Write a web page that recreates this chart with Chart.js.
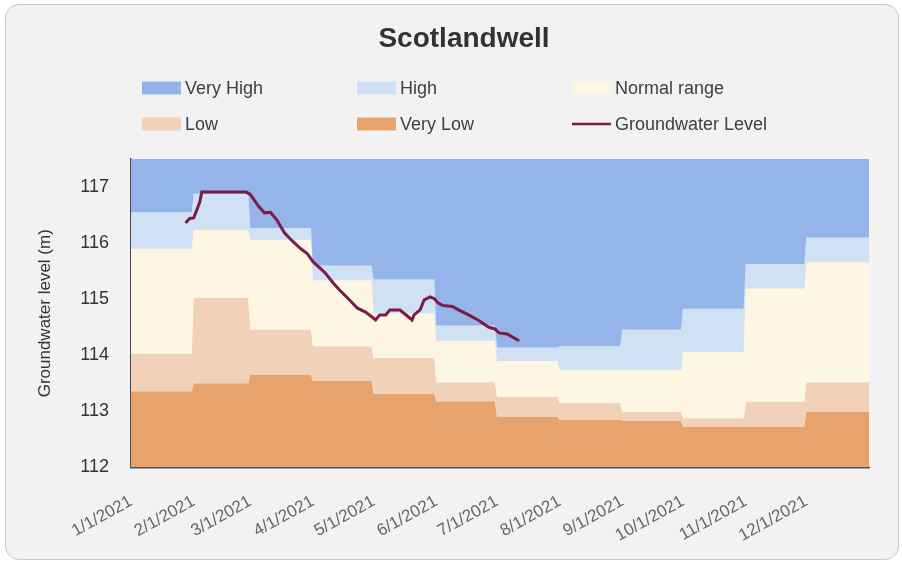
<!DOCTYPE html>
<html>
<head>
<meta charset="utf-8">
<script src="https://cdn.jsdelivr.net/npm/chart.js@4.4.1/dist/chart.umd.min.js"></script>
<style>
  body { margin: 0; background: #ffffff; }
  #frame {
    position: absolute; left: 5px; top: 4px; width: 894px; height: 556px;
    box-sizing: border-box; border: 1px solid #c8c8c8; border-radius: 14px;
    background: #f2f2f2; overflow: hidden;
  }
  canvas { display: block; }
</style>
</head>
<body>
<div id="frame"><canvas id="chart" width="892" height="554"></canvas></div>
<script>
// monthly band limits (m), Jan..Dec 2021
const highUpper    = [116.55, 116.88, 116.27, 115.60, 115.35, 114.53, 114.14, 114.16, 114.46, 114.83, 115.63, 116.10];
const normalUpper  = [115.90, 116.24, 116.06, 115.34, 114.75, 114.26, 113.90, 113.74, 113.74, 114.06, 115.19, 115.66];
const lowUpper     = [114.03, 115.02, 114.46, 114.16, 113.95, 113.52, 113.26, 113.15, 112.99, 112.88, 113.17, 113.52];
const veryLowUpper = [113.36, 113.50, 113.65, 113.54, 113.31, 113.18, 112.91, 112.85, 112.83, 112.72, 112.72, 112.99];

// groundwater readings
const levelDates = [
  "2021-01-28", "2021-01-30", "2021-02-01", "2021-02-02", "2021-02-04", "2021-02-05",
  "2021-02-27", "2021-03-01", "2021-03-05", "2021-03-08", "2021-03-11", "2021-03-14",
  "2021-03-18", "2021-03-22", "2021-03-26", "2021-03-29", "2021-04-01", "2021-04-07",
  "2021-04-11", "2021-04-14", "2021-04-19", "2021-04-23", "2021-04-27", "2021-05-01",
  "2021-05-02", "2021-05-04", "2021-05-07", "2021-05-09", "2021-05-14", "2021-05-16",
  "2021-05-20", "2021-05-21", "2021-05-24", "2021-05-26", "2021-05-29", "2021-05-31",
  "2021-06-02", "2021-06-04", "2021-06-09", "2021-06-12", "2021-06-17", "2021-06-22",
  "2021-06-27", "2021-06-30", "2021-07-02", "2021-07-06", "2021-07-09", "2021-07-12",
];
const levels = [
  116.36, 116.44, 116.45, 116.54, 116.73, 116.91,
  116.91, 116.87, 116.66, 116.54, 116.55, 116.42,
  116.18, 116.03, 115.90, 115.82, 115.67, 115.47,
  115.29, 115.17, 114.99, 114.84, 114.77, 114.66,
  114.63, 114.72, 114.72, 114.81, 114.81, 114.75,
  114.63, 114.72, 114.81, 114.99, 115.04, 115.01,
  114.93, 114.89, 114.87, 114.81, 114.72, 114.62,
  114.50, 114.47, 114.40, 114.38, 114.32, 114.26,
];

const tickLabels = ["1/1/2021", "2/1/2021", "3/1/2021", "4/1/2021", "5/1/2021", "6/1/2021",
  "7/1/2021", "8/1/2021", "9/1/2021", "10/1/2021", "11/1/2021", "12/1/2021"];

const yearStart = Date.UTC(2021, 0, 1);
const DAY = 86400000;
const dayOf = (s) => (Date.parse(s) - yearStart) / DAY;
const monthStart = [];
for (let m = 0; m <= 12; m++) monthStart.push((Date.UTC(2021, m, 1) - yearStart) / DAY);

function bandPoints(values) {
  const pts = [];
  values.forEach((v, m) => {
    pts.push({ x: monthStart[m], y: v });
    pts.push({ x: m === values.length - 1 ? monthStart[m + 1] : monthStart[m + 1] - 1, y: v });
  });
  return pts;
}

function band(label, color, values, fill) {
  return {
    label: label,
    data: bandPoints(values),
    backgroundColor: color,
    borderColor: color,
    borderWidth: 0,
    pointRadius: 0,
    fill: fill,
  };
}

const headerLegend = {
  id: "headerLegend",
  afterDraw(chart) {
    const ctx = chart.ctx;
    ctx.save();
    ctx.fillStyle = "#333333";
    ctx.font = "bold 28px 'Liberation Sans', Arial, sans-serif";
    ctx.textAlign = "center";
    ctx.textBaseline = "middle";
    ctx.fillText("Scotlandwell", 458, 34);

    ctx.font = "18px 'Liberation Sans', Arial, sans-serif";
    ctx.textAlign = "left";
    const colX = [136, 351, 566];
    const rowY = [83, 119];
    chart.data.datasets.forEach((ds, i) => {
      const x = colX[i % 3];
      const y = rowY[Math.floor(i / 3)];
      if (ds.fill === false) {
        ctx.strokeStyle = ds.borderColor;
        ctx.lineWidth = 2.5;
        ctx.beginPath();
        ctx.moveTo(x, y);
        ctx.lineTo(x + 39, y);
        ctx.stroke();
      } else {
        ctx.fillStyle = ds.backgroundColor;
        ctx.fillRect(x, y - 6.5, 39, 13);
      }
      ctx.fillStyle = "#404040";
      ctx.fillText(ds.label, x + 43, y + 1);
    });
    ctx.restore();
  },
};

new Chart(document.getElementById("chart"), {
  type: "line",
  data: {
    datasets: [
      band("Very High", "#94b4ea", highUpper, "end"),
      band("High", "#cfe1f3", highUpper, 2),
      band("Normal range", "#fdf6e3", normalUpper, 3),
      band("Low", "#f1d1b7", lowUpper, 4),
      band("Very Low", "#e8a36c", veryLowUpper, "start"),
      {
        label: "Groundwater Level",
        data: levelDates.map((d, i) => ({ x: dayOf(d), y: levels[i] })),
        borderColor: "#7a1c48",
        backgroundColor: "#7a1c48",
        borderWidth: 3,
        pointRadius: 0,
        tension: 0,
        fill: false,
        order: -1,
      },
    ],
  },
  options: {
    responsive: false,
    animation: false,
    layout: { padding: { top: 154, right: 29, bottom: 0, left: 0 } },
    scales: {
      x: {
        type: "linear",
        min: 0,
        max: 365,
        afterBuildTicks: (scale) => {
          scale.ticks = monthStart.slice(0, 12).map((v) => ({ value: v }));
        },
        afterFit: (scale) => { scale.height = 91.5; },
        grid: { display: false, drawTicks: false },
        border: { display: true, color: "#4a4a4a", width: 1.5 },
        ticks: {
          autoSkip: false,
          minRotation: 29,
          maxRotation: 29,
          padding: 24,
          color: "#666666",
          font: { family: "'Liberation Sans', Arial, sans-serif", size: 17 },
          callback: (value, index) => tickLabels[index],
        },
      },
      y: {
        min: 112,
        max: 117.5,
        afterFit: (scale) => { scale.width = 125; },
        grid: { display: false, drawTicks: false },
        border: { display: true, color: "#4a4a4a", width: 1.5 },
        ticks: {
          stepSize: 1,
          includeBounds: false,
          padding: 22,
          color: "#333333",
          font: { family: "'Liberation Sans', Arial, sans-serif", size: 18 },
        },
        title: {
          display: true,
          text: "Groundwater level (m)",
          color: "#333333",
          padding: { top: 29, bottom: 0 },
          font: { family: "'Liberation Sans', Arial, sans-serif", size: 17 },
        },
      },
    },
    plugins: {
      legend: { display: false },
      title: { display: false },
      tooltip: { enabled: false },
      filler: { drawTime: "beforeDatasetsDraw" },
    },
  },
  plugins: [headerLegend],
});
</script>
</body>
</html>
